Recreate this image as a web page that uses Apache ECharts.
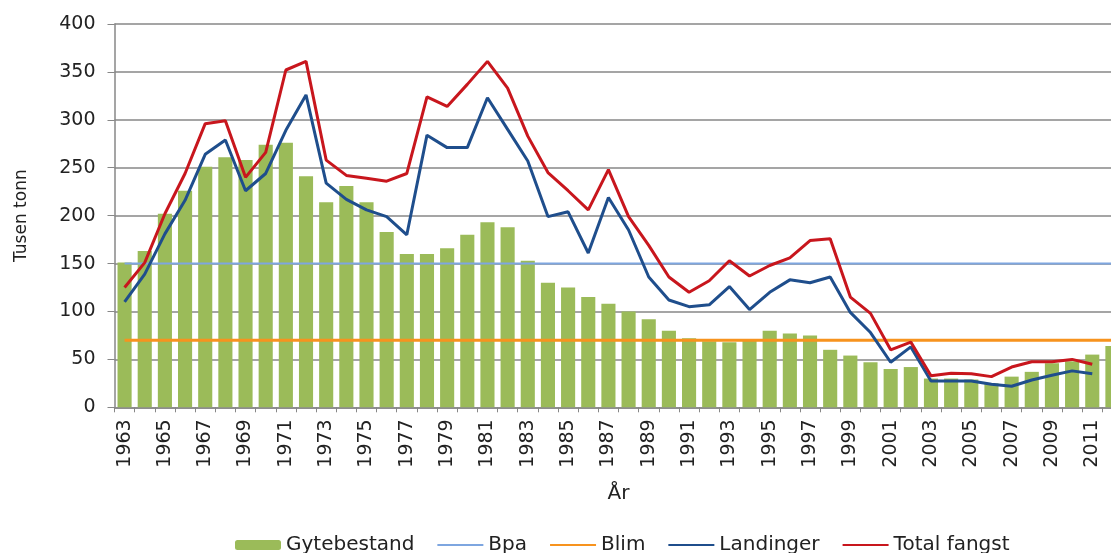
<!DOCTYPE html>
<html>
<head>
<meta charset="utf-8">
<script src="https://cdn.jsdelivr.net/npm/echarts@6/dist/echarts.min.js"></script>
<style>
  html, body { margin: 0; padding: 0; background: #fff; overflow: hidden; }
  #main { width: 1111px; height: 553px; }
</style>
</head>
<body>
<div id="main"></div>
<script>
  var years = [];
  for (var y = 1963; y <= 2012; y++) {
    years.push(String(y));
  }

  // gytebestand, 1963-2012
  var gytebestand = [
    151, 163, 202, 226, 251, 261, 258, 274, 276, 241,
    214, 231, 214, 183, 160, 160, 166, 180, 193, 188,
    153, 130, 125, 115, 108, 100, 92, 80, 72, 69,
    68, 70, 80, 77, 75, 60, 54, 47, 40, 42,
    30, 30, 29, 25, 32, 37, 46, 48, 55, 64
  ];
  // landinger, 1963-2011
  var landinger = [
    110, 139, 181, 216, 264, 279, 226, 244, 289, 326,
    234, 217, 206, 199, 180, 284, 271, 271, 323, 290,
    257, 199, 204, 161, 219, 185, 136, 112, 105, 107,
    126, 102, 120, 133, 130, 136, 99, 78, 47, 63,
    27.5, 27.5, 27.5, 24, 22, 28.5, 33.5, 38, 35, null
  ];
  // total fangst, 1963-2011
  var totalFangst = [
    125, 151, 202, 244, 296, 299, 240, 266, 352, 361,
    258, 242, 239, 236, 244, 324, 314, 337, 361, 333,
    283, 245, 226, 206, 248, 199, 169, 136, 120, 132,
    153, 137, 148, 156, 174, 176, 115, 98, 60, 68,
    33, 35.5, 35, 32, 42, 47.5, 47.5, 50, 45, null
  ];
  var bpa = [
    150, 150, 150, 150, 150, 150, 150, 150, 150, 150,
    150, 150, 150, 150, 150, 150, 150, 150, 150, 150,
    150, 150, 150, 150, 150, 150, 150, 150, 150, 150,
    150, 150, 150, 150, 150, 150, 150, 150, 150, 150,
    150, 150, 150, 150, 150, 150, 150, 150, 150, 150
  ];
  var blim = [
    70, 70, 70, 70, 70, 70, 70, 70, 70, 70,
    70, 70, 70, 70, 70, 70, 70, 70, 70, 70,
    70, 70, 70, 70, 70, 70, 70, 70, 70, 70,
    70, 70, 70, 70, 70, 70, 70, 70, 70, 70,
    70, 70, 70, 70, 70, 70, 70, 70, 70, 70
  ];

  var font = 'DejaVu Sans';
  var gridColor = '#878787';
  // legend line items: hide the round marker, keep the stroke
  var noDot = { opacity: 0 };

  var option = {
    animation: false,
    title: { text: ' ', left: 'center', top: 60 },
    grid: {
      left: 114.5,
      right: -11.5,
      top: 24,
      bottom: 145.7,
      outerBoundsMode: 'none'
    },
    legend: {
      left: 230,
      top: 530,
      itemWidth: 46,
      itemHeight: 10,
      itemGap: 22,
      textStyle: { fontFamily: font, fontSize: 20, color: '#222' },
      data: [
        'Gytebestand',
        { name: 'Bpa', itemStyle: noDot },
        { name: 'Blim', itemStyle: noDot },
        { name: 'Landinger', itemStyle: noDot },
        { name: 'Total fangst', itemStyle: noDot }
      ]
    },
    xAxis: {
      type: 'category',
      data: years,
      boundaryGap: true,
      name: 'År',
      nameLocation: 'middle',
      nameGap: 76,
      nameTextStyle: { fontFamily: font, fontSize: 20, color: '#222' },
      axisLine: { lineStyle: { color: gridColor, width: 1.5 } },
      axisTick: { show: true, interval: 0, length: 5 },
      axisLabel: {
        show: true,
        interval: 1,
        rotate: 90,
        margin: 12,
        fontFamily: font,
        fontSize: 19,
        color: '#222'
      }
    },
    yAxis: {
      type: 'value',
      min: 0,
      max: 400,
      interval: 50,
      name: 'Tusen tonn',
      nameLocation: 'middle',
      nameGap: 84,
      nameTextStyle: { fontFamily: font, fontSize: 17, color: '#222' },
      axisLine: { show: true, lineStyle: { color: gridColor, width: 1.5 } },
      axisTick: { show: true, length: 7, lineStyle: { color: gridColor } },
      axisLabel: { margin: 19, fontFamily: font, fontSize: 19, color: '#222' },
      splitLine: { show: true, lineStyle: { color: gridColor, width: 1.5 } }
    },
    series: [
      {
        name: 'Gytebestand',
        type: 'bar',
        barCategoryGap: '30%',
        itemStyle: { color: '#9bbb59' },
        data: gytebestand
      },
      {
        name: 'Bpa',
        type: 'line',
        symbol: 'none',
        lineStyle: { color: '#7ea6e0', width: 2 },
        itemStyle: { color: '#7ea6e0' },
        data: bpa
      },
      {
        name: 'Blim',
        type: 'line',
        symbol: 'none',
        lineStyle: { color: '#f7931e', width: 3 },
        itemStyle: { color: '#f7931e' },
        data: blim
      },
      {
        name: 'Landinger',
        type: 'line',
        symbol: 'none',
        lineStyle: { color: '#1f4e8c', width: 3 },
        itemStyle: { color: '#1f4e8c' },
        data: landinger
      },
      {
        name: 'Total fangst',
        type: 'line',
        symbol: 'none',
        lineStyle: { color: '#c8161d', width: 3 },
        itemStyle: { color: '#c8161d' },
        data: totalFangst
      }
    ]
  };

  var myChart = echarts.init(document.getElementById('main'));
  myChart.setOption(option);
  // second pass on the labels, the first layout sometimes leaves them flat
  myChart.setOption({ xAxis: { axisLabel: { rotate: 90 } } });
  myChart.resize();
</script>
</body>
</html>
